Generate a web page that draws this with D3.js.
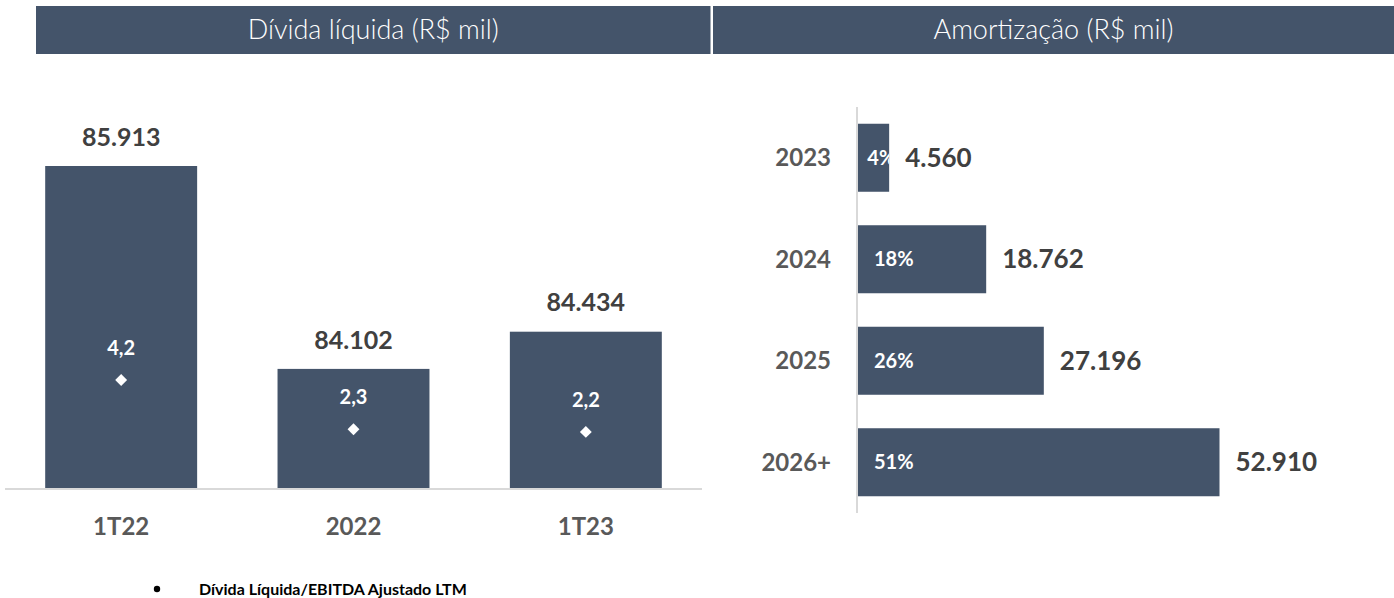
<!DOCTYPE html>
<html>
<head>
<meta charset="utf-8">
<script src="https://cdn.jsdelivr.net/npm/d3@7"></script>
<style>
  html, body { margin: 0; padding: 0; background: #fff; }
  svg { display: block; font-family: Lato, "Open Sans", sans-serif; }
</style>
</head>
<body>
<svg id="chart" width="1394" height="598"></svg>
<script>
// ---- data ----
const debtCategories = ["1T22", "2022", "1T23"];
const debtValues = [85913, 84102, 84434];
const leverageValues = [4.2, 2.3, 2.2];

const amortYears = ["2023", "2024", "2025", "2026+"];
const amortValues = [4560, 18762, 27196, 52910];
const amortShares = ["4%", "18%", "26%", "51%"];

const leftTitle = "Dívida líquida (R$ mil)";
const rightTitle = "Amortização (R$ mil)";
const legendText = "Dívida Líquida/EBITDA Ajustado LTM";

// ---- styles ----
const barColor = "#44546A";
const valueColor = "#404040";
const catColor = "#595959";
const axisColor = "#d9d9d9";

const locale = d3.formatLocale({decimal: ",", thousands: ".", grouping: [3], currency: ["R$", ""]});
const fmtInt = locale.format(",d");
const fmtDec = locale.format(",.1f");

const svg = d3.select("#chart");

// ---- headers ----
const headers = [
  {x0: 36, x1: 710.5, text: leftTitle},
  {x0: 713, x1: 1394, text: rightTitle}
];
const hg = svg.append("g");
hg.selectAll("rect").data(headers).join("rect")
  .attr("x", d => d.x0).attr("y", 6)
  .attr("width", d => d.x1 - d.x0).attr("height", 48)
  .attr("fill", barColor);
hg.selectAll("text").data(headers).join("text")
  .attr("x", d => (d.x0 + d.x1) / 2).attr("y", 30)
  .attr("dy", "0.35em").attr("text-anchor", "middle")
  .attr("fill", "#fff").attr("font-size", 27).attr("font-weight", 300)
  .text(d => d.text);

// ---- left chart: net debt ----
const x = d3.scaleBand().domain(debtCategories).range([5, 702])
  .paddingInner(0.346).paddingOuter(0.173);
const y = d3.scaleLinear().domain([83030, d3.max(debtValues)]).range([489, 166]);
const y2 = d3.scaleLinear().domain([0, 5]).range([489, 359.2]);

const left = svg.append("g");
const debtData = debtCategories.map((c, i) => ({c, v: debtValues[i], r: leverageValues[i]}));

left.selectAll("rect.bar").data(debtData).join("rect")
  .attr("class", "bar")
  .attr("x", d => x(d.c)).attr("width", x.bandwidth())
  .attr("y", d => y(d.v)).attr("height", d => y.range()[0] - y(d.v))
  .attr("fill", barColor);

left.append("line")
  .attr("x1", x.range()[0]).attr("x2", x.range()[1])
  .attr("y1", 489).attr("y2", 489)
  .attr("stroke", axisColor).attr("stroke-width", 2);

left.selectAll("text.val").data(debtData).join("text")
  .attr("class", "val")
  .attr("x", d => x(d.c) + x.bandwidth() / 2)
  .attr("y", d => y(d.v) - 29).attr("dy", "0.35em")
  .attr("text-anchor", "middle").attr("font-weight", 700)
  .attr("font-size", 25).attr("fill", valueColor)
  .text(d => fmtInt(d.v));

left.selectAll("path.diamond").data(debtData).join("path")
  .attr("class", "diamond")
  .attr("d", d3.symbol(d3.symbolDiamond2, 90))
  .attr("transform", d => `translate(${x(d.c) + x.bandwidth() / 2},${y2(d.r)})`)
  .attr("fill", "#fff");

left.selectAll("text.ratio").data(debtData).join("text")
  .attr("class", "ratio")
  .attr("x", d => x(d.c) + x.bandwidth() / 2)
  .attr("y", d => y2(d.r) - 32).attr("dy", "0.35em")
  .attr("text-anchor", "middle").attr("font-weight", 700)
  .attr("font-size", 20).attr("fill", "#fff")
  .text(d => fmtDec(d.r));

left.selectAll("text.cat").data(debtData).join("text")
  .attr("class", "cat")
  .attr("x", d => x(d.c) + x.bandwidth() / 2)
  .attr("y", 527).attr("dy", "0.35em")
  .attr("text-anchor", "middle").attr("font-weight", 700)
  .attr("font-size", 24).attr("fill", catColor)
  .text(d => d.c);

// ---- right chart: amortization ----
const yB = d3.scaleBand().domain(amortYears).range([107, 513])
  .paddingInner(0.33).paddingOuter(0.165);
const xR = d3.scaleLinear().domain([0, d3.max(amortValues)]).range([858, 1219.5]);

const right = svg.append("g");
const amortData = amortYears.map((yr, i) => ({yr, v: amortValues[i], p: amortShares[i]}));

const defs = svg.append("defs");
defs.selectAll("clipPath").data(amortData).join("clipPath")
  .attr("id", (d, i) => "clip" + i)
  .append("rect")
  .attr("x", xR(0)).attr("y", d => yB(d.yr))
  .attr("width", d => xR(d.v) - xR(0)).attr("height", yB.bandwidth());

right.selectAll("rect.bar").data(amortData).join("rect")
  .attr("class", "bar")
  .attr("x", xR(0)).attr("y", d => yB(d.yr))
  .attr("width", d => xR(d.v) - xR(0)).attr("height", yB.bandwidth())
  .attr("fill", barColor);

right.append("line")
  .attr("x1", 857).attr("x2", 857)
  .attr("y1", yB.range()[0]).attr("y2", yB.range()[1])
  .attr("stroke", axisColor).attr("stroke-width", 2);

right.selectAll("text.pct").data(amortData).join("text")
  .attr("class", "pct")
  .attr("clip-path", (d, i) => `url(#clip${i})`)
  .attr("x", d => xR(0) + Math.min(16, (xR(d.v) - xR(0)) * 0.3))
  .attr("y", d => yB(d.yr) + yB.bandwidth() / 2).attr("dy", "0.35em")
  .attr("font-weight", 700).attr("font-size", 20).attr("fill", "#fff")
  .text(d => d.p);

right.selectAll("text.val").data(amortData).join("text")
  .attr("class", "val")
  .attr("x", d => xR(d.v) + 16)
  .attr("y", d => yB(d.yr) + yB.bandwidth() / 2).attr("dy", "0.35em")
  .attr("font-weight", 700).attr("font-size", 26).attr("fill", valueColor)
  .text(d => fmtInt(d.v));

right.selectAll("text.cat").data(amortData).join("text")
  .attr("class", "cat")
  .attr("x", 831)
  .attr("y", d => yB(d.yr) + yB.bandwidth() / 2).attr("dy", "0.35em")
  .attr("text-anchor", "end").attr("font-weight", 700)
  .attr("font-size", 24).attr("fill", catColor)
  .text(d => d.yr);

// ---- legend ----
const lg = svg.append("g");
lg.append("circle").attr("cx", 157).attr("cy", 589).attr("r", 3.2).attr("fill", "#000");
lg.append("text").attr("x", 199).attr("y", 595)
  .attr("font-weight", 700).attr("font-size", 16).attr("fill", "#000")
  .text(legendText);
</script>
</body>
</html>
